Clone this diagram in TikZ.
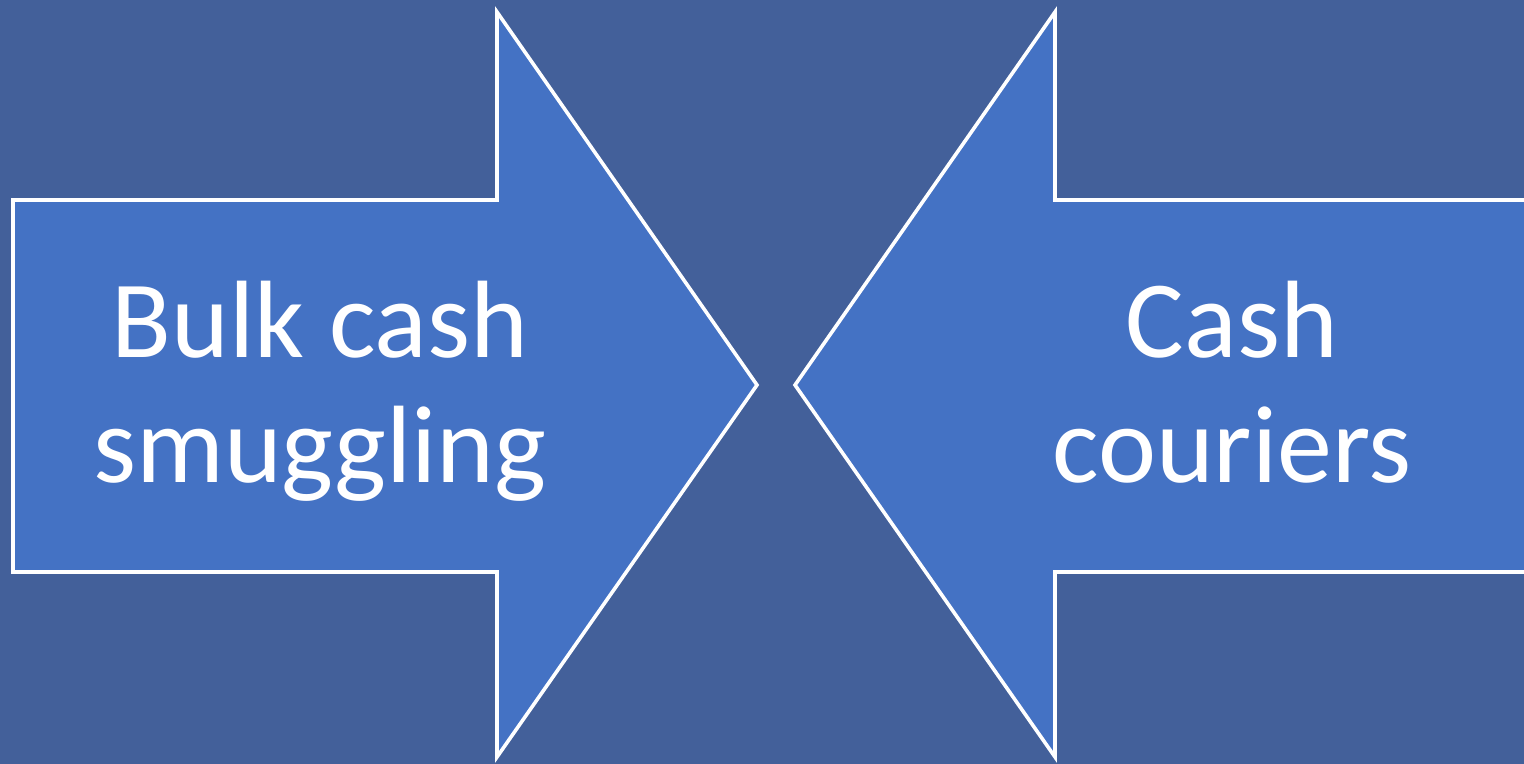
\documentclass[tikz,border=0pt]{standalone}
\usepackage{fontspec}
\setmainfont{Carlito}
\usetikzlibrary{positioning}
\definecolor{slidebg}{HTML}{43609A}
\definecolor{arrowblue}{HTML}{4472C4}
\tikzset{
  bigarrow/.style={draw=white,fill=arrowblue,line width=1.8pt,line join=miter},
  arrowtext/.style={text=white,align=center,inner sep=0pt,
                    font=\fontsize{55}{62.5}\selectfont}
}
\begin{document}
\begin{tikzpicture}[x=0.5pt,y=-0.5pt]
  \fill[slidebg] (0,0) rectangle (1524,764);
  \useasboundingbox (0,0) rectangle (1524,764);
  % left arrow, pointing right
  \draw[bigarrow] (13,200) -- (497,200) -- (497,12) -- (757,385)
    -- (497,757) -- (497,572) -- (13,572) -- cycle;
  % right arrow, pointing left, running off the slide
  \draw[bigarrow] (1540,200) -- (1055,200) -- (1055,12) -- (795,385)
    -- (1055,757) -- (1055,572) -- (1540,572) -- cycle;
  \node[arrowtext,anchor=base] (bulk) at (320,482) {Bulk cash\\smuggling};
  \node[arrowtext,anchor=base] (couriers) at (1232,482) {Cash\\couriers};
\end{tikzpicture}
\end{document}
